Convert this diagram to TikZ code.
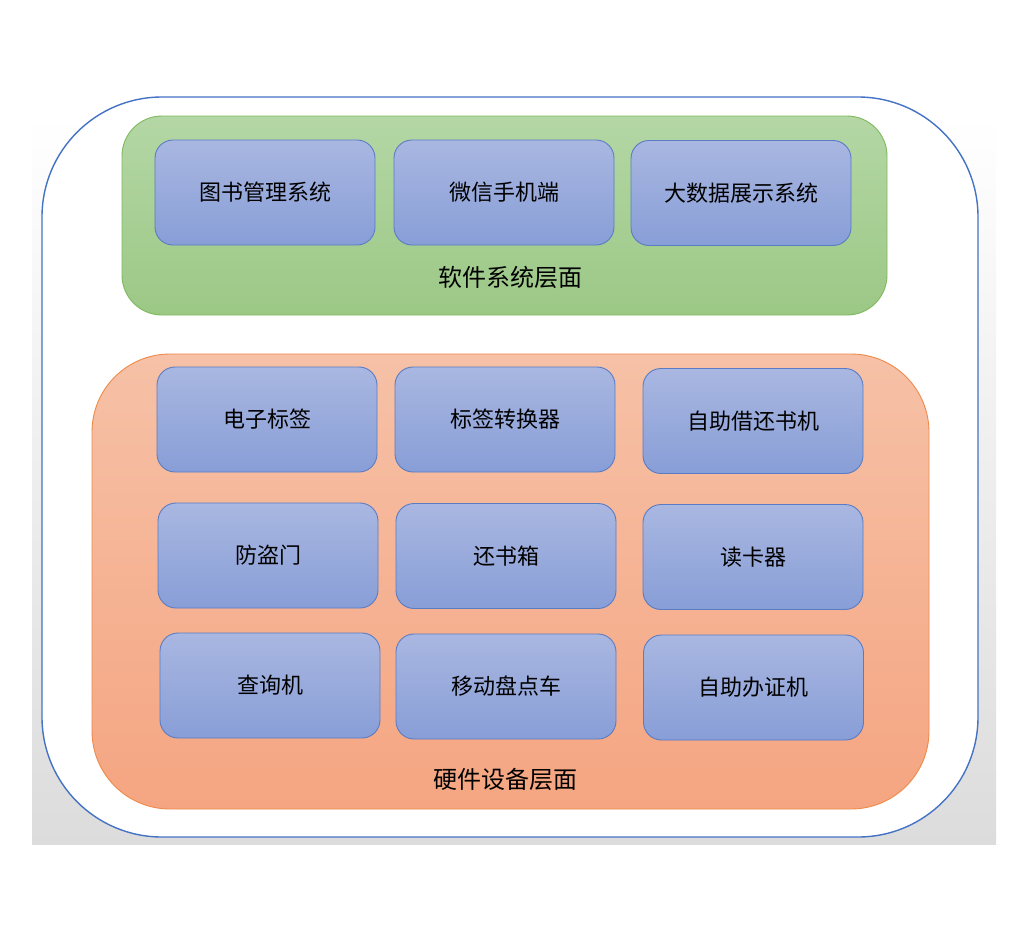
\documentclass[tikz,border=0pt]{standalone}
\usepackage{fontspec}
\setmainfont{Noto Sans CJK SC}
\begin{document}
\begin{tikzpicture}[x=1pt,y=-1pt,
  container/.style={rectangle, inner sep=0pt},
  item/.style={rectangle, rounded corners=18pt, draw=boxline, line width=0.9pt,
    top color=boxtop, bottom color=boxbot, minimum width=220pt, minimum height=105pt,
    inner sep=0pt, font=\fontsize{22}{26}\selectfont, text=black},
  layerlabel/.style={font=\fontsize{24}{28}\selectfont, text=black, inner sep=0pt}]
\definecolor{boxline}{HTML}{5A7CC4}
\definecolor{boxtop}{HTML}{A9B7E1}
\definecolor{boxbot}{HTML}{889ED7}
\definecolor{outerline}{HTML}{4472C4}
\definecolor{greentop}{HTML}{B4D7A5}
\definecolor{greenbot}{HTML}{9CC886}
\definecolor{greenline}{HTML}{7FB95D}
\definecolor{orangetop}{HTML}{F6C1A7}
\definecolor{orangebot}{HTML}{F5A581}
\definecolor{orangeline}{HTML}{EE8A4A}
\definecolor{graybot}{HTML}{DCDCDC}
\useasboundingbox (0,0) rectangle (1029,930);
\fill[white] (0,0) rectangle (1029,930);
\shade[top color=white, bottom color=graybot] (32,115) rectangle (996,844);
\node[container, draw=outerline, fill=white, line width=1.4pt, rounded corners=120pt,
  minimum width=936pt, minimum height=740pt] (outer) at (510,467) {};
\node[container, draw=greenline, line width=0.9pt, rounded corners=40pt,
  top color=greentop, bottom color=greenbot,
  minimum width=765pt, minimum height=199pt] (soft) at (504.5,215.5) {};
\node[container, draw=orangeline, line width=0.9pt, rounded corners=78pt,
  top color=orangetop, bottom color=orangebot,
  minimum width=837pt, minimum height=455pt] (hard) at (510.5,581.5) {};
\node[item] (b1) at (265,192.5) {图书管理系统};
\node[item] (b2) at (504,192.5) {微信手机端};
\node[item] (b3) at (741,193) {大数据展示系统};
\node[layerlabel] (softlabel) at (510,277) {软件系统层面};
\node[item] (h1) at (267,419.5) {电子标签};
\node[item] (h2) at (505,419.5) {标签转换器};
\node[item] (h3) at (753,421) {自助借还书机};
\node[item] (h4) at (268,555.5) {防盗门};
\node[item] (h5) at (506,556) {还书箱};
\node[item] (h6) at (753,557) {读卡器};
\node[item] (h7) at (270,685.5) {查询机};
\node[item] (h8) at (506,686.5) {移动盘点车};
\node[item] (h9) at (753.5,687.5) {自助办证机};
\node[layerlabel] (hardlabel) at (505,779) {硬件设备层面};
\end{tikzpicture}
\end{document}
